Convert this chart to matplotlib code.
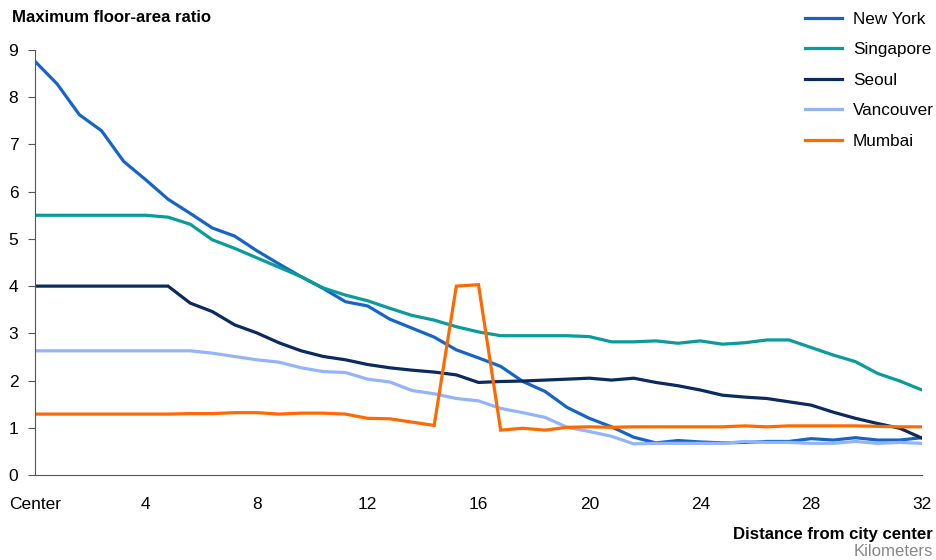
import numpy as np
import matplotlib
matplotlib.use('Agg')
import matplotlib.pyplot as plt

plt.rcParams.update({'font.family': ['Liberation Sans', 'DejaVu Sans'], 'font.size': 12.5})

# distance from center, km (every 0.8 km)
dist = np.arange(41) * 0.8

new_york = [8.76, 8.28, 7.63, 7.29, 6.64, 6.25, 5.84, 5.54, 5.23, 5.06, 4.75,
            4.47, 4.2, 3.95, 3.67, 3.58, 3.3, 3.11, 2.92, 2.65, 2.48, 2.3,
            1.98, 1.77, 1.43, 1.2, 1.02, 0.8, 0.68, 0.73, 0.7, 0.68, 0.69,
            0.71, 0.71, 0.77, 0.74, 0.79, 0.74, 0.74, 0.79]
singapore = [5.5, 5.5, 5.5, 5.5, 5.5, 5.5, 5.46, 5.31, 4.98, 4.8, 4.6,
             4.4, 4.2, 3.96, 3.81, 3.69, 3.53, 3.38, 3.28, 3.14, 3.03, 2.95,
             2.95, 2.95, 2.95, 2.93, 2.82, 2.82, 2.84, 2.79, 2.84, 2.77, 2.8,
             2.86, 2.86, 2.7, 2.54, 2.4, 2.15, 1.99, 1.8]
seoul = [4.0, 4.0, 4.0, 4.0, 4.0, 4.0, 4.0, 3.64, 3.46, 3.18, 3.01,
         2.8, 2.63, 2.51, 2.44, 2.34, 2.27, 2.22, 2.18, 2.12, 1.96, 1.98,
         1.99, 2.01, 2.03, 2.05, 2.01, 2.05, 1.96, 1.89, 1.8, 1.69, 1.65,
         1.62, 1.55, 1.48, 1.33, 1.2, 1.09, 0.99, 0.78]
vancouver = [2.63, 2.63, 2.63, 2.63, 2.63, 2.63, 2.63, 2.63, 2.58, 2.51, 2.44,
             2.39, 2.27, 2.19, 2.17, 2.03, 1.97, 1.79, 1.72, 1.62, 1.57, 1.41,
             1.32, 1.22, 1.01, 0.92, 0.82, 0.66, 0.67, 0.67, 0.67, 0.67, 0.71,
             0.69, 0.69, 0.67, 0.67, 0.71, 0.67, 0.69, 0.67]
mumbai = [1.29, 1.29, 1.29, 1.29, 1.29, 1.29, 1.29, 1.3, 1.3, 1.32, 1.32,
          1.29, 1.31, 1.31, 1.29, 1.2, 1.19, 1.12, 1.05, 4.0, 4.03, 0.95,
          0.99, 0.95, 1.01, 1.02, 1.01, 1.02, 1.02, 1.02, 1.02, 1.02, 1.04,
          1.02, 1.04, 1.04, 1.04, 1.04, 1.03, 1.02, 1.02]

xticks = [0, 4, 8, 12, 16, 20, 24, 28, 32]
xlabels = ['Center', '4', '8', '12', '16', '20', '24', '28', '32']

fig = plt.figure(figsize=(9.36, 5.6), dpi=100)
ax = fig.add_axes([35/936, 85/560, 887/936, 425/560])

series = [('New York', new_york, '#1565c8'),
          ('Singapore', singapore, '#0a9b9b'),
          ('Seoul', seoul, '#0b2b5e'),
          ('Vancouver', vancouver, '#94b4fa'),
          ('Mumbai', mumbai, '#ff6a00')]
for name, vals, col in series:
    ax.plot(dist, vals, color=col, lw=2.3, label=name, solid_joinstyle='miter')

ax.set_xlim(0, 32)
ax.set_ylim(0, 9)
ax.set_yticks(range(10))
ax.set_xticks(xticks)
ax.set_xticklabels(xlabels)
for s in ['top', 'right']:
    ax.spines[s].set_visible(False)
ax.spines['left'].set_color('#555555')
ax.spines['bottom'].set_color('#555555')
ax.tick_params(axis='y', length=5, color='#555555', labelsize=12.5, pad=7)
ax.tick_params(axis='x', length=0, labelsize=12.5, pad=16)

fig.text(12/936, 1 - 18/560, 'Maximum floor-area ratio', fontweight='bold',
         fontsize=12.1, va='center', ha='left')
fig.text(933/936, 1 - 535/560, 'Distance from city center', fontweight='bold',
         fontsize=12.1, va='center', ha='right')
fig.text(933/936, 1 - 552/560, 'Kilometers', color='#888888',
         fontsize=12.1, va='center', ha='right')

fig.legend(loc='upper left', bbox_to_anchor=(805/936, 1 - 12/560), frameon=False,
           fontsize=12.3, handlelength=2.15, handletextpad=0.65, labelspacing=0.9,
           borderaxespad=0, borderpad=0)

fig.savefig('out.png', dpi=100)
